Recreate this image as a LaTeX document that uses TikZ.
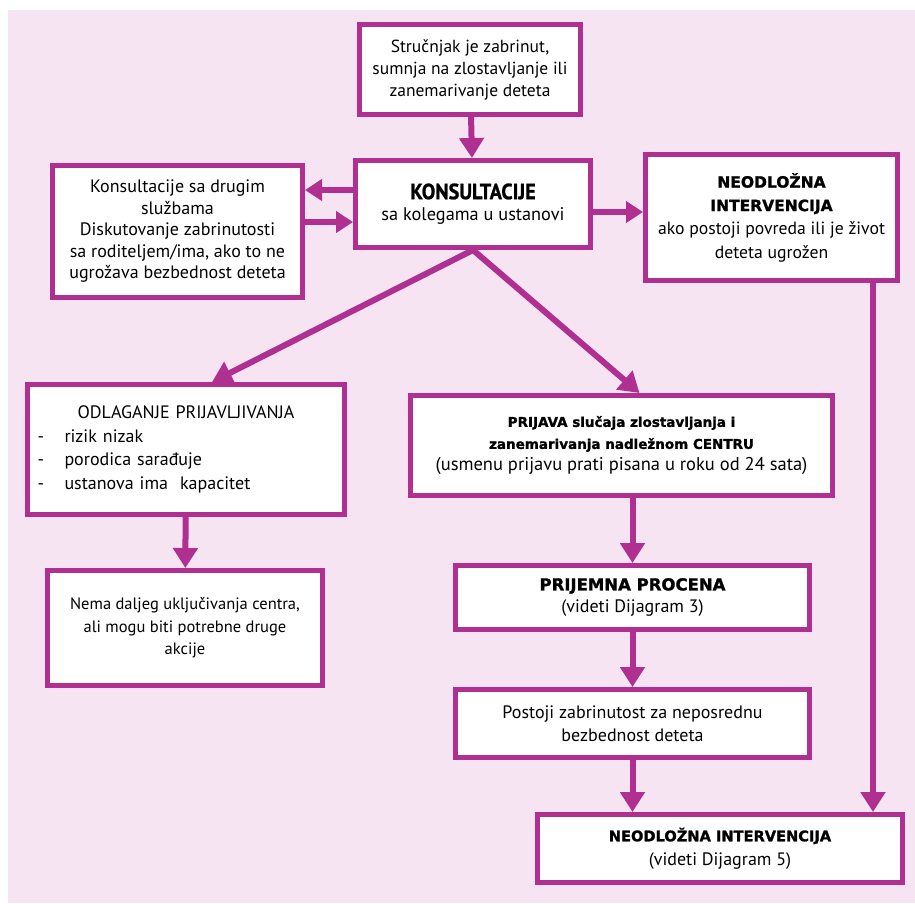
\documentclass[tikz,border=0pt]{standalone}
\usepackage{fontspec}
\setmainfont{PT Sans}
\newfontfamily\heavyfont[BoldFeatures={FakeBold=1.3}]{DejaVu Sans}
\newfontfamily\narrowfont[FakeStretch=0.92,BoldFeatures={FakeBold=1}]{PT Sans}
\usetikzlibrary{arrows.meta}
\definecolor{rubpink}{RGB}{176,48,146}
\definecolor{bgpink}{RGB}{246,228,243}
\newcommand{\hd}[2][14.5]{{\heavyfont\bfseries\fontsize{#1}{20}\selectfont #2}}

\begin{document}
\begin{tikzpicture}[x=1pt,y=-1pt,
box/.style={draw=rubpink,line width=5pt,fill=white,align=center,inner sep=0pt,
  font=\fontsize{18}{22.5}\selectfont},
arr/.style={draw=rubpink,line width=6pt,-{Triangle[length=20pt,width=24pt]}},
sarr/.style={draw=rubpink,line width=6pt,-{Triangle[length=17pt,width=21pt]}}]
\useasboundingbox (0,0) rectangle (915,903);
\fill[bgpink] (8,10) rectangle (915,903);
% boxes
\node[box,minimum width=221pt,minimum height=90pt,font=\fontsize{17.5}{22}\selectfont] (worry) at (470,69.5)
  {Stručnjak je zabrinut,\\sumnja na zlostavljanje ili\\zanemarivanje deteta};
\node[box,minimum width=235pt,minimum height=87pt] (kons) at (473,204)
  {{\narrowfont\bfseries\fontsize{22}{24}\selectfont KONSULTACIJE}\\[-1pt]{\fontsize{18.3}{22}\selectfont sa kolegama u ustanovi}};
\node[box,minimum width=250pt,minimum height=132pt,font=\fontsize{18}{21.5}\selectfont] (other) at (177.5,231.5)
  {Konsultacije sa drugim\\službama\\Diskutovanje zabrinutosti\\sa roditeljem/ima, ako to ne\\ugrožava bezbednost deteta};
\node[box,minimum width=252pt,minimum height=126pt,font=\fontsize{17.7}{23.5}\selectfont] (urgent) at (771.5,217.5)
  {\hd[15.5]{NEODLOŽNA}\\\hd[15.5]{INTERVENCIJA}\\ako postoji povreda ili je život\\deteta ugrožen};
\node[box,minimum width=317pt,minimum height=130pt,align=left,text width=297pt,font=\fontsize{18}{23.5}\selectfont] (delay) at (186,449.5)
  {\makebox[297pt]{ODLAGANJE PRIJAVLJIVANJA}\\
   \makebox[27pt][l]{-}rizik nizak\\
   \makebox[27pt][l]{-}porodica sarađuje\\
   \makebox[27pt][l]{-}ustanova ima\ \ kapacitet};
\node[box,minimum width=422pt,minimum height=100pt,font=\fontsize{18.5}{22}\selectfont] (report) at (621.5,445.5)
  {\hd[13.5]{PRIJAVA slučaja zlostavljanja i}\\\hd[13.5]{zanemarivanja nadležnom CENTRU}\\(usmenu prijavu prati pisana u roku od 24 sata)};
\node[box,minimum width=275pt,minimum height=115pt,font=\fontsize{16.5}{22.5}\selectfont] (nocentre) at (185,628)
  {Nema daljeg uključivanja centra,\\ali mogu biti potrebne druge\\akcije};
\node[box,minimum width=354pt,minimum height=64pt] (intake) at (632.5,597.5)
  {\hd[16.5]{PRIJEMNA PROCENA}\\(videti Dijagram 3)};
\node[box,minimum width=354pt,minimum height=68pt] (safety) at (632.5,723.5)
  {Postoji zabrinutost za neposrednu\\bezbednost deteta};
\node[box,minimum width=365pt,minimum height=68pt,font=\fontsize{18}{24}\selectfont] (final) at (720,848.5)
  {\hd[14.6]{NEODLOŽNA INTERVENCIJA}\\(videti Dijagram 5)};
% arrow ends
\coordinate (kback) at ([yshift=14pt]kons.west);
\coordinate (kin) at ([yshift=-18pt]kons.west);
\coordinate (kout) at ([yshift=-8pt]kons.east);
\coordinate (udown) at ([xshift=-27pt]urgent.south east);
% arrows
\draw[arr] (worry) -- (kons);
\draw[sarr] (kback) -- (kback -| other.east);
\draw[sarr] (kin -| other.east) -- (kin);
\draw[sarr] (kout) -- (kout -| urgent.west);
\draw[arr] (kons.south) -- ([xshift=26pt]delay.north);
\draw[arr] (kons.south) -- ([xshift=18pt]report.north);
\draw[arr] (delay) -- (nocentre);
\draw[arr] (intake.north |- report.south) -- (intake.north);
\draw[arr] (intake) -- (safety);
\draw[arr] (safety.south) -- (safety.south |- final.north);
\draw[arr] (udown) -- (udown |- final.north);
\end{tikzpicture}
\end{document}
